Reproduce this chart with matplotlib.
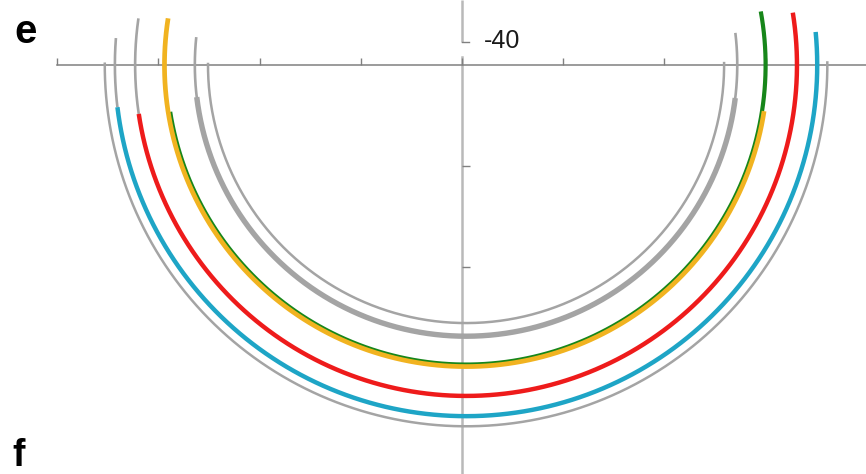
import numpy as np
import matplotlib
matplotlib.use("Agg")
import matplotlib.pyplot as plt

# ---- data -------------------------------------------------------------
# Each track segment is an arc around a common centre; angles in degrees,
# measured counter-clockwise from the positive x axis (180 = left, 270 = bottom).
track_names = ["outer", "cyan_lead", "cyan", "red_lead", "red",
               "green", "yellow", "gray_thin", "gray_thick", "inner"]
track_radius = [357, 347, 347, 327, 327, 296, 298, 268, 268, 255]
track_start = [179.6, 175.6, 186.9, 171.9, 188.5, 189.0, 171.1, 174.1, 186.8, 179.5]
track_end = [360.6, 186.9, 365.4, 188.5, 369.1, 370.3, 351.2, 366.8, 353.0, 360.7]
arc_centre = (4.0, 0.0)

x_ticks = [-400, -300, -200, -100, 0, 100, 200, 300]
y_ticks = [-100, -200]
upper_tick_value = 23          # position of the neighbouring panel's last tick
upper_tick_label = "-40"
panel_labels = ["e", "f"]

# ---- styles -----------------------------------------------------------
GRAY = "#a4a4a4"
style = {
    "outer":      dict(color=GRAY, lw=1.8),
    "cyan_lead":  dict(color=GRAY, lw=1.9),
    "cyan":       dict(color="#1ea5c6", lw=3.2),
    "red_lead":   dict(color=GRAY, lw=1.9),
    "red":        dict(color="#ee1b1b", lw=3.2),
    "green":      dict(color="#17861a", lw=3.0),
    "yellow":     dict(color="#f1b320", lw=3.4),
    "gray_thin":  dict(color=GRAY, lw=1.9),
    "gray_thick": dict(color=GRAY, lw=3.9),
    "inner":      dict(color=GRAY, lw=1.8),
}

W, H = 866, 474
PX_PER_UNIT = 1.012
fig = plt.figure(figsize=(W / 100, H / 100), dpi=100)
ax = fig.add_axes([0, 0, 1, 1])
x0 = -462 / PX_PER_UNIT
y0 = -(H - 65) / PX_PER_UNIT
ax.set_xlim(x0, x0 + W / PX_PER_UNIT)
ax.set_ylim(y0, y0 + H / PX_PER_UNIT)
ax.set_facecolor("white")

# arcs
for name, r, a0, a1 in zip(track_names, track_radius, track_start, track_end):
    t = np.radians(np.linspace(a0, a1, 400))
    ax.plot(arc_centre[0] + r * np.cos(t), arc_centre[1] + r * np.sin(t),
            solid_capstyle="butt", zorder=3, **style[name])

# axes through the origin
for s in ["top", "right"]:
    ax.spines[s].set_visible(False)
ax.spines["bottom"].set_position(("data", 0))
ax.spines["bottom"].set_bounds(x_ticks[0], ax.get_xlim()[1])
ax.spines["bottom"].set_color("#808080")
ax.spines["bottom"].set_linewidth(1.1)
ax.spines["left"].set_position(("data", 0))
ax.spines["left"].set_bounds(ax.get_ylim()[0], 8)
ax.spines["left"].set_color("#b9b9b9")
ax.spines["left"].set_linewidth(1.8)
ax.spines["left"].set_zorder(1)

ax.set_xticks(x_ticks)
ax.set_yticks(y_ticks)
ax.tick_params(axis="x", direction="in", length=5, width=1.0, color="#808080",
               labelbottom=False)
ax.tick_params(axis="y", direction="in", length=5.5, width=1.0, color="#808080",
               labelleft=False)

# the neighbouring panel's axis ending just above
ytop = ax.get_ylim()[1]
ax.plot([0, 0], [upper_tick_value, ytop], color="#b9b9b9", lw=1.8, zorder=1,
        solid_capstyle="butt")
ax.plot([0, 7], [upper_tick_value, upper_tick_value], color="#808080", lw=1.0,
        zorder=1)
ax.text(21.5, upper_tick_value - 6, upper_tick_label,
        family=["Liberation Sans Narrow", "Liberation Sans", "DejaVu Sans"],
        fontsize=18, color="#1a1a1a", ha="left", va="baseline")

# panel letters
fig.text(14 / W, 1 - 43 / H, panel_labels[0], fontsize=29, fontweight="bold",
         family=["Liberation Sans", "DejaVu Sans"], ha="left", va="baseline")
fig.text(12 / W, 1 - 474 / H, panel_labels[1], fontsize=27, fontweight="bold",
         family=["Liberation Sans", "DejaVu Sans"], ha="left", va="bottom")

fig.savefig("out.png", dpi=100)
